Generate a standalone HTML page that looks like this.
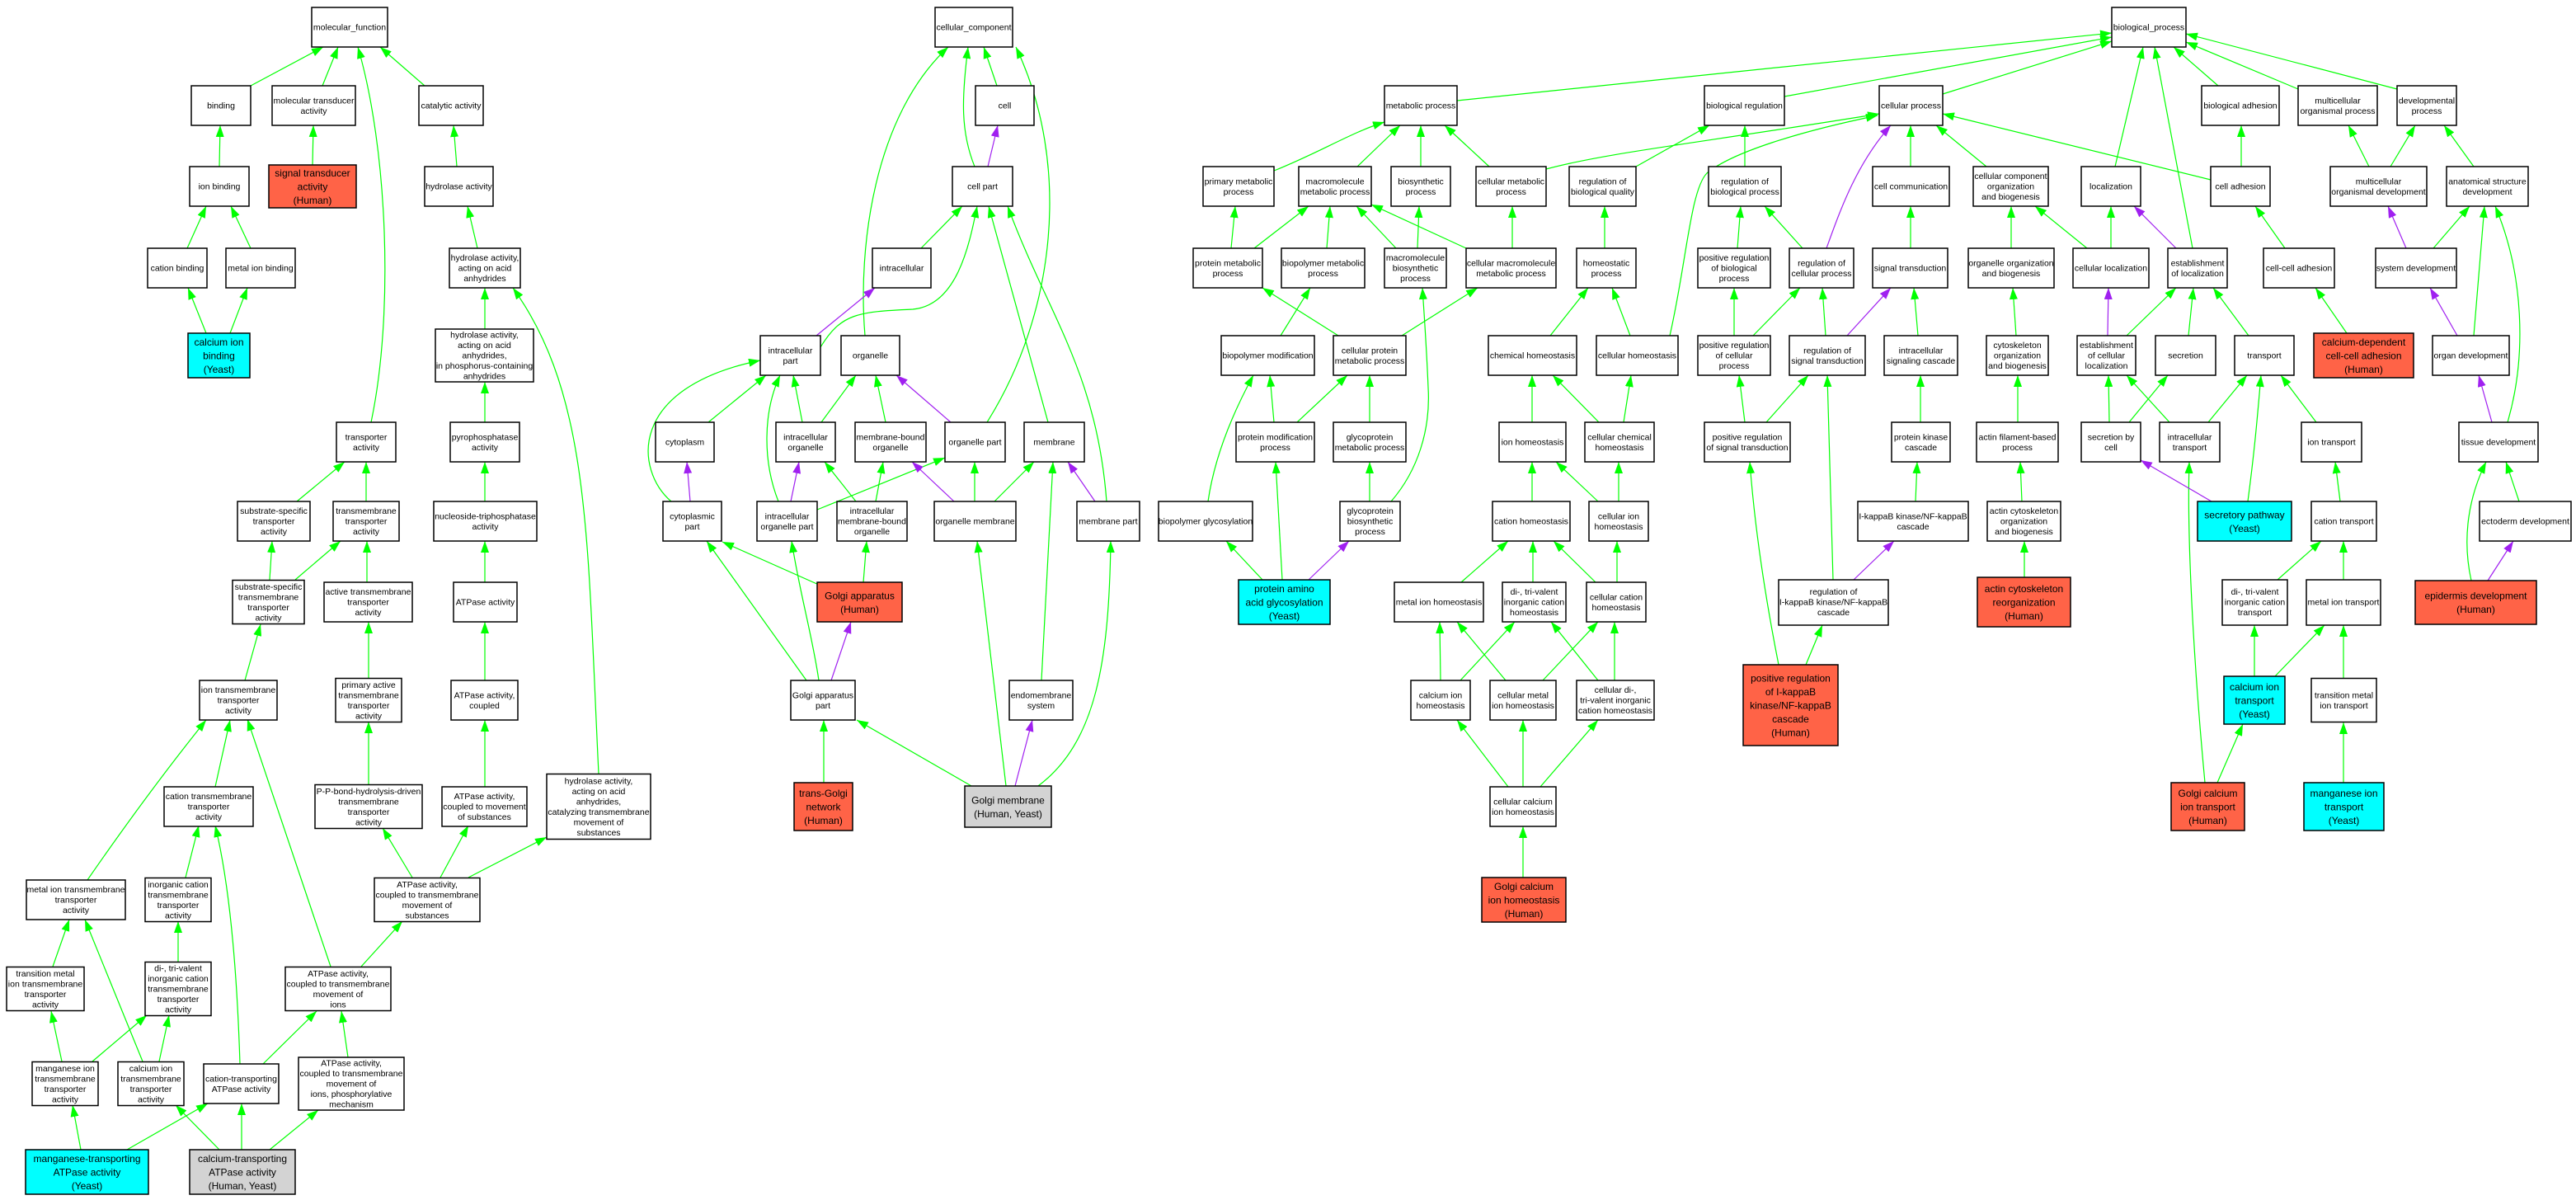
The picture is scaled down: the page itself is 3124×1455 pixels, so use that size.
<!DOCTYPE html>
<html><head><meta charset="utf-8"><style>
html,body{margin:0;padding:0;background:#fff}
svg{display:block}
rect{fill:#fff;stroke:#000;stroke-width:1.5}
rect.r{fill:#ff6347}
rect.c{fill:#00ffff}
rect.y{fill:#d3d3d3}
text{font-family:"Liberation Sans",Arial,sans-serif;font-size:10.5px;text-anchor:middle;fill:#000}
text.L{font-size:12px;letter-spacing:0}
g.g path{stroke:#00ff00;fill:none;stroke-width:1.2;marker-end:url(#mg)}
g.p path{stroke:#a020f0;fill:none;stroke-width:1.2;marker-end:url(#mp)}
</style></head><body>
<svg width="3124" height="1455" viewBox="0 0 3124 1455" xmlns="http://www.w3.org/2000/svg">
<defs>
<marker id="mg" viewBox="0 0 14 10" refX="14" refY="5" markerWidth="14" markerHeight="10" markerUnits="userSpaceOnUse" orient="auto"><path d="M0,0L14,5L0,10z" fill="#00ff00"/></marker>
<marker id="mp" viewBox="0 0 14 10" refX="14" refY="5" markerWidth="14" markerHeight="10" markerUnits="userSpaceOnUse" orient="auto"><path d="M0,0L14,5L0,10z" fill="#a020f0"/></marker>
</defs>
<g class="g">
<path d="M304,104L392,57"/><path d="M391,104L410,57"/><path d="M450,512C478,380 470,180 434,57"/><path d="M515,104L461,57"/>
<path d="M266,202L267,152"/><path d="M379,200L380,152"/><path d="M554,202L550,152"/>
<path d="M227,301L250,250"/><path d="M304,301L280,250"/><path d="M579,301L567,250"/>
<path d="M250,404L228,349"/><path d="M279,404L300,349"/><path d="M588,399L588,349"/>
<path d="M726,938C712,650 716,480 622,349"/>
<path d="M588,512L588,463"/><path d="M588,608L588,560"/><path d="M588,706L588,656"/><path d="M588,825L588,754"/><path d="M588,954L588,873"/>
<path d="M500,1064L464,1004"/><path d="M534,1064L568,1001"/><path d="M568,1064L663,1015"/>
<path d="M438,1172L488,1117"/><path d="M401,1172L300,872"/>
<path d="M360,608L418,560"/><path d="M444,608L444,560"/><path d="M327,703L330,656"/><path d="M358,703L413,656"/>
<path d="M445,706L445,656"/><path d="M447,822L447,754"/><path d="M447,951L447,875"/>
<path d="M297,825L316,757"/><path d="M261,954L279,873"/><path d="M106,1067Q180,960 250,873"/>
<path d="M225,1064L241,1001"/><path d="M216,1166L216,1117"/><path d="M64,1172L84,1115"/>
<path d="M75,1287L62,1226"/><path d="M112,1287L178,1231"/><path d="M173,1287L103,1115"/><path d="M193,1287L205,1231"/>
<path d="M319,1290L384,1226"/><path d="M291,1290Q285,1100 261,1001"/><path d="M422,1282L414,1226"/>
<path d="M98,1394L88,1340"/><path d="M154,1394L252,1338"/><path d="M266,1394L213,1340"/><path d="M293,1394L293,1338"/><path d="M327,1394L386,1346"/>
<path d="M1209,104L1193,57"/><path d="M1182,202C1165,160 1166,120 1174,57"/><path d="M1049,407C1040,300 1060,140 1150,57"/>
<path d="M1197,512C1280,380 1300,200 1232,57"/><path d="M1117,301L1167,250"/>
<path d="M995,421C1020,380 1040,378 1107,375C1160,370 1175,300 1185,250"/>
<path d="M1271,512L1199,250"/><path d="M1342,608C1330,450 1270,380 1222,250"/>
<path d="M859,512L929,455"/><path d="M973,512L962,455"/><path d="M996,512L1038,455"/><path d="M1074,512L1062,455"/>
<path d="M814,608C770,570 760,470 922,437"/><path d="M944,608C925,560 925,500 946,455"/><path d="M991,618L1146,555"/>
<path d="M1038,608L1000,560"/><path d="M1062,608L1071,560"/><path d="M1182,608L1182,560"/><path d="M1206,608L1254,560"/>
<path d="M993,709L876,657"/><path d="M1047,706L1051,656"/><path d="M978,825L857,656"/><path d="M993,825C985,770 970,720 960,656"/>
<path d="M999,949L999,873"/><path d="M1178,953L1039,873"/><path d="M1220,953L1185,656"/><path d="M1259,953C1330,900 1345,800 1347,656"/><path d="M1263,825L1277,560"/>
<path d="M1767,122L2561,40"/><path d="M2164,117L2561,45"/><path d="M2356,114L2561,50"/><path d="M2565,202L2599,57"/>
<path d="M2659,301L2613,57"/><path d="M2690,104L2636,57"/><path d="M2787,108L2651,51"/><path d="M2907,108L2651,41"/>
<path d="M2681,218L2356,138"/><path d="M2718,202L2718,152"/><path d="M2771,301L2735,250"/><path d="M2846,404L2808,349"/>
<path d="M2873,202L2848,152"/><path d="M2899,202L2929,152"/><path d="M3000,202L2964,152"/>
<path d="M2951,301L2995,250"/><path d="M3000,407L3013,250"/><path d="M3041,512C3065,430 3060,330 3026,250"/>
<path d="M3055,608L3039,560"/><path d="M2997,704C2985,650 2995,600 3015,560"/>
<path d="M2560,301L2560,250"/><path d="M2531,301L2468,250"/><path d="M2579,407L2639,349"/><path d="M2654,407L2660,349"/><path d="M2727,407L2684,349"/>
<path d="M2558,512L2557,455"/><path d="M2582,512L2629,455"/><path d="M2631,512L2579,455"/><path d="M2678,512L2725,455"/><path d="M2809,512L2766,455"/>
<path d="M2726,608C2735,540 2738,500 2742,455"/><path d="M2838,608L2832,560"/><path d="M2762,703L2815,656"/><path d="M2842,703L2842,656"/>
<path d="M2734,820L2734,758"/><path d="M2759,820L2819,758"/><path d="M2842,822L2842,758"/><path d="M2842,949L2842,876"/>
<path d="M2689,949L2720,878"/><path d="M2674,949C2660,800 2652,650 2655,560"/>
<path d="M1984,202L2073,152"/><path d="M1875,205C1950,185 2050,175 2279,138"/>
<path d="M2025,407C2045,320 2050,230 2070,210C2100,185 2180,160 2277,140"/>
<path d="M1806,202L1752,152"/><path d="M2116,202L2116,152"/><path d="M2317,202L2317,152"/><path d="M2409,202L2348,152"/>
<path d="M2107,301L2111,250"/><path d="M2186,301L2140,250"/><path d="M2317,301L2317,250"/><path d="M2439,301L2439,250"/>
<path d="M2103,407L2103,349"/><path d="M2126,407L2183,349"/><path d="M2214,407L2210,349"/><path d="M2326,407L2321,349"/><path d="M2445,407L2441,349"/>
<path d="M2116,512L2109,455"/><path d="M2142,512L2193,455"/><path d="M2329,512L2329,455"/><path d="M2447,512L2447,455"/>
<path d="M2323,608L2325,560"/><path d="M2452,608L2450,560"/><path d="M2223,703L2216,455"/><path d="M2455,700L2455,656"/>
<path d="M2157,806C2140,720 2128,640 2122,560"/><path d="M2190,806L2210,758"/>
<path d="M1545,207C1600,185 1640,160 1679,148"/><path d="M1646,202L1698,152"/><path d="M1723,202L1723,152"/>
<path d="M1493,301L1498,250"/><path d="M1521,301L1587,250"/><path d="M1609,301L1613,250"/><path d="M1693,301L1645,250"/><path d="M1719,301L1721,250"/>
<path d="M1778,301L1663,248"/><path d="M1834,301L1834,250"/><path d="M1946,301L1946,250"/>
<path d="M1553,407L1589,349"/><path d="M1623,407L1531,349"/><path d="M1700,407L1792,349"/><path d="M1880,407L1926,349"/><path d="M1977,407L1955,349"/>
<path d="M1545,512L1540,455"/><path d="M1573,512L1634,455"/><path d="M1661,512L1661,455"/><path d="M1858,512L1858,455"/><path d="M1939,512L1883,455"/><path d="M1969,512L1978,455"/>
<path d="M1465,608C1472,560 1490,510 1520,455"/><path d="M1661,608L1661,560"/>
<path d="M1687,608C1720,570 1735,520 1732,470C1730,420 1727,380 1725,349"/>
<path d="M1858,608L1858,560"/><path d="M1938,608L1887,560"/><path d="M1963,608L1963,560"/>
<path d="M1531,703L1487,656"/><path d="M1555,703L1547,560"/>
<path d="M1772,706L1829,656"/><path d="M1859,706L1859,656"/><path d="M1935,706L1884,656"/><path d="M1961,706L1961,656"/>
<path d="M1747,825L1746,754"/><path d="M1771,825L1837,754"/><path d="M1826,825L1767,754"/><path d="M1871,825L1938,754"/><path d="M1938,825L1881,754"/><path d="M1958,825L1958,754"/>
<path d="M1829,954L1767,873"/><path d="M1847,954L1847,873"/><path d="M1868,954L1938,873"/><path d="M1847,1064L1847,1002"/>
</g>
<g class="p">
<path d="M1198,202L1210,152"/><path d="M990,407L1061,349"/><path d="M1153,512L1087,455"/><path d="M837,608L833,560"/>
<path d="M959,608L969,560"/><path d="M1157,608L1106,560"/><path d="M1328,608L1295,560"/><path d="M1008,825L1032,754"/><path d="M1231,953L1252,873"/>
<path d="M2918,301L2896,250"/><path d="M2980,407L2947,349"/><path d="M3022,512L3006,455"/><path d="M3017,704L3048,656"/>
<path d="M2639,301L2588,250"/><path d="M2556,407L2557,349"/><path d="M2682,608L2596,558"/>
<path d="M2215,301C2230,260 2250,200 2293,152"/><path d="M2240,407L2293,349"/><path d="M2248,703L2297,656"/>
<path d="M1587,703L1636,656"/>
</g>

<rect x="378" y="9" width="92" height="48"/><text x="424" y="36.7">molecular_function</text>
<rect x="232" y="104" width="72" height="48"/><text x="268" y="131.7">binding</text>
<rect x="330" y="104" width="101" height="48"/><text x="380.5" y="125.45">molecular transducer<tspan x="380.5" dy="12.5">activity</tspan></text>
<rect x="508" y="104" width="78" height="48"/><text x="547" y="131.7">catalytic activity</text>
<rect x="230" y="202" width="72" height="48"/><text x="266" y="229.7">ion binding</text>
<rect class="r" x="326" y="200" width="106" height="52"/><text class="L" x="379" y="214.1">signal transducer<tspan x="379" dy="16.5">activity</tspan><tspan x="379" dy="16.5">(Human)</tspan></text>
<rect x="515" y="202" width="83" height="48"/><text x="556.5" y="229.7">hydrolase activity</text>
<rect x="179" y="301" width="72" height="48"/><text x="215" y="328.7">cation binding</text>
<rect x="274" y="301" width="84" height="48"/><text x="316" y="328.7">metal ion binding</text>
<rect x="545" y="301" width="86" height="48"/><text x="588" y="316.2">hydrolase activity,<tspan x="588" dy="12.5">acting on acid</tspan><tspan x="588" dy="12.5">anhydrides</tspan></text>
<rect class="c" x="228" y="404" width="75" height="54"/><text class="L" x="265.5" y="419.1">calcium ion<tspan x="265.5" dy="16.5">binding</tspan><tspan x="265.5" dy="16.5">(Yeast)</tspan></text>
<rect x="528" y="399" width="119" height="64"/><text x="587.5" y="409.7">hydrolase activity,<tspan x="587.5" dy="12.5">acting on acid</tspan><tspan x="587.5" dy="12.5">anhydrides,</tspan><tspan x="587.5" dy="12.5">in phosphorus-containing</tspan><tspan x="587.5" dy="12.5">anhydrides</tspan></text>
<rect x="408" y="512" width="72" height="48"/><text x="444" y="533.45">transporter<tspan x="444" dy="12.5">activity</tspan></text>
<rect x="546" y="512" width="84" height="48"/><text x="588" y="533.45">pyrophosphatase<tspan x="588" dy="12.5">activity</tspan></text>
<rect x="288" y="608" width="88" height="48"/><text x="332" y="623.2">substrate-specific<tspan x="332" dy="12.5">transporter</tspan><tspan x="332" dy="12.5">activity</tspan></text>
<rect x="404" y="608" width="80" height="48"/><text x="444" y="623.2">transmembrane<tspan x="444" dy="12.5">transporter</tspan><tspan x="444" dy="12.5">activity</tspan></text>
<rect x="526" y="608" width="125" height="48"/><text x="588.5" y="629.45">nucleoside-triphosphatase<tspan x="588.5" dy="12.5">activity</tspan></text>
<rect x="282" y="703.5" width="87" height="53"/><text x="325.5" y="714.95">substrate-specific<tspan x="325.5" dy="12.5">transmembrane</tspan><tspan x="325.5" dy="12.5">transporter</tspan><tspan x="325.5" dy="12.5">activity</tspan></text>
<rect x="393" y="706" width="107" height="48"/><text x="446.5" y="721.2">active transmembrane<tspan x="446.5" dy="12.5">transporter</tspan><tspan x="446.5" dy="12.5">activity</tspan></text>
<rect x="550" y="706" width="77" height="48"/><text x="588.5" y="733.7">ATPase activity</text>
<rect x="242" y="825" width="94" height="48"/><text x="289" y="840.2">ion transmembrane<tspan x="289" dy="12.5">transporter</tspan><tspan x="289" dy="12.5">activity</tspan></text>
<rect x="407" y="822.5" width="80" height="53"/><text x="447" y="833.95">primary active<tspan x="447" dy="12.5">transmembrane</tspan><tspan x="447" dy="12.5">transporter</tspan><tspan x="447" dy="12.5">activity</tspan></text>
<rect x="547" y="825" width="81" height="48"/><text x="587.5" y="846.45">ATPase activity,<tspan x="587.5" dy="12.5">coupled</tspan></text>
<rect x="199" y="954" width="108" height="48"/><text x="253" y="969.2">cation transmembrane<tspan x="253" dy="12.5">transporter</tspan><tspan x="253" dy="12.5">activity</tspan></text>
<rect x="382" y="951.5" width="130" height="53"/><text x="447" y="962.95">P-P-bond-hydrolysis-driven<tspan x="447" dy="12.5">transmembrane</tspan><tspan x="447" dy="12.5">transporter</tspan><tspan x="447" dy="12.5">activity</tspan></text>
<rect x="536" y="954" width="103" height="48"/><text x="587.5" y="969.2">ATPase activity,<tspan x="587.5" dy="12.5">coupled to movement</tspan><tspan x="587.5" dy="12.5">of substances</tspan></text>
<rect x="663" y="938.5" width="126" height="79"/><text x="726" y="950.45">hydrolase activity,<tspan x="726" dy="12.5">acting on acid</tspan><tspan x="726" dy="12.5">anhydrides,</tspan><tspan x="726" dy="12.5">catalyzing transmembrane</tspan><tspan x="726" dy="12.5">movement of</tspan><tspan x="726" dy="12.5">substances</tspan></text>
<rect x="32" y="1067" width="120" height="48"/><text x="92" y="1082.2">metal ion transmembrane<tspan x="92" dy="12.5">transporter</tspan><tspan x="92" dy="12.5">activity</tspan></text>
<rect x="176" y="1064.5" width="80" height="53"/><text x="216" y="1075.95">inorganic cation<tspan x="216" dy="12.5">transmembrane</tspan><tspan x="216" dy="12.5">transporter</tspan><tspan x="216" dy="12.5">activity</tspan></text>
<rect x="454" y="1064.5" width="128" height="53"/><text x="518" y="1075.95">ATPase activity,<tspan x="518" dy="12.5">coupled to transmembrane</tspan><tspan x="518" dy="12.5">movement of</tspan><tspan x="518" dy="12.5">substances</tspan></text>
<rect x="8" y="1172.5" width="94" height="53"/><text x="55" y="1183.95">transition metal<tspan x="55" dy="12.5">ion transmembrane</tspan><tspan x="55" dy="12.5">transporter</tspan><tspan x="55" dy="12.5">activity</tspan></text>
<rect x="176" y="1166.5" width="80" height="65"/><text x="216" y="1177.7">di-, tri-valent<tspan x="216" dy="12.5">inorganic cation</tspan><tspan x="216" dy="12.5">transmembrane</tspan><tspan x="216" dy="12.5">transporter</tspan><tspan x="216" dy="12.5">activity</tspan></text>
<rect x="346" y="1172.5" width="128" height="53"/><text x="410" y="1183.95">ATPase activity,<tspan x="410" dy="12.5">coupled to transmembrane</tspan><tspan x="410" dy="12.5">movement of</tspan><tspan x="410" dy="12.5">ions</tspan></text>
<rect x="39" y="1287.5" width="80" height="53"/><text x="79" y="1298.95">manganese ion<tspan x="79" dy="12.5">transmembrane</tspan><tspan x="79" dy="12.5">transporter</tspan><tspan x="79" dy="12.5">activity</tspan></text>
<rect x="143" y="1287.5" width="80" height="53"/><text x="183" y="1298.95">calcium ion<tspan x="183" dy="12.5">transmembrane</tspan><tspan x="183" dy="12.5">transporter</tspan><tspan x="183" dy="12.5">activity</tspan></text>
<rect x="247" y="1290" width="91" height="48"/><text x="292.5" y="1311.45">cation-transporting<tspan x="292.5" dy="12.5">ATPase activity</tspan></text>
<rect x="362" y="1282" width="128" height="64"/><text x="426" y="1292.7">ATPase activity,<tspan x="426" dy="12.5">coupled to transmembrane</tspan><tspan x="426" dy="12.5">movement of</tspan><tspan x="426" dy="12.5">ions, phosphorylative</tspan><tspan x="426" dy="12.5">mechanism</tspan></text>
<rect class="c" x="31" y="1394" width="149" height="54"/><text class="L" x="105.5" y="1409.1">manganese-transporting<tspan x="105.5" dy="16.5">ATPase activity</tspan><tspan x="105.5" dy="16.5">(Yeast)</tspan></text>
<rect class="y" x="230" y="1394" width="128" height="54"/><text class="L" x="294" y="1409.1">calcium-transporting<tspan x="294" dy="16.5">ATPase activity</tspan><tspan x="294" dy="16.5">(Human, Yeast)</tspan></text>

<rect x="1134" y="9" width="94" height="48"/><text x="1181" y="36.7">cellular_component</text>
<rect x="1183" y="104" width="71" height="48"/><text x="1218.5" y="131.7">cell</text>
<rect x="1155" y="202" width="73" height="48"/><text x="1191.5" y="229.7">cell part</text>
<rect x="1058" y="301" width="71" height="48"/><text x="1093.5" y="328.7">intracellular</text>
<rect x="922" y="407" width="73" height="48"/><text x="958.5" y="428.45">intracellular<tspan x="958.5" dy="12.5">part</tspan></text>
<rect x="1020" y="407" width="71" height="48"/><text x="1055.5" y="434.7">organelle</text>
<rect x="795" y="512" width="71" height="48"/><text x="830.5" y="539.7">cytoplasm</text>
<rect x="941" y="512" width="72" height="48"/><text x="977" y="533.45">intracellular<tspan x="977" dy="12.5">organelle</tspan></text>
<rect x="1037" y="512" width="86" height="48"/><text x="1080" y="533.45">membrane-bound<tspan x="1080" dy="12.5">organelle</tspan></text>
<rect x="1146" y="512" width="73" height="48"/><text x="1182.5" y="539.7">organelle part</text>
<rect x="1242" y="512" width="73" height="48"/><text x="1278.5" y="539.7">membrane</text>
<rect x="804" y="608" width="71" height="48"/><text x="839.5" y="629.45">cytoplasmic<tspan x="839.5" dy="12.5">part</tspan></text>
<rect x="918" y="608" width="73" height="48"/><text x="954.5" y="629.45">intracellular<tspan x="954.5" dy="12.5">organelle part</tspan></text>
<rect x="1015" y="608" width="85" height="48"/><text x="1057.5" y="623.2">intracellular<tspan x="1057.5" dy="12.5">membrane-bound</tspan><tspan x="1057.5" dy="12.5">organelle</tspan></text>
<rect x="1133" y="608" width="99" height="48"/><text x="1182.5" y="635.7">organelle membrane</text>
<rect x="1306" y="608" width="76" height="48"/><text x="1344" y="635.7">membrane part</text>
<rect class="r" x="991" y="706" width="103" height="48"/><text class="L" x="1042.5" y="726.35">Golgi apparatus<tspan x="1042.5" dy="16.5">(Human)</tspan></text>
<rect x="959" y="825" width="78" height="48"/><text x="998" y="846.45">Golgi apparatus<tspan x="998" dy="12.5">part</tspan></text>
<rect x="1224" y="825" width="77" height="48"/><text x="1262.5" y="846.45">endomembrane<tspan x="1262.5" dy="12.5">system</tspan></text>
<rect class="r" x="963" y="949" width="71" height="58"/><text class="L" x="998.5" y="966.1">trans-Golgi<tspan x="998.5" dy="16.5">network</tspan><tspan x="998.5" dy="16.5">(Human)</tspan></text>
<rect class="y" x="1170" y="953" width="105" height="50"/><text class="L" x="1222.5" y="974.35">Golgi membrane<tspan x="1222.5" dy="16.5">(Human, Yeast)</tspan></text>

<rect x="2561" y="9" width="90" height="48"/><text x="2606" y="36.7">biological_process</text>
<rect x="1679" y="104" width="88" height="48"/><text x="1723" y="131.7">metabolic process</text>
<rect x="2067" y="104" width="97" height="48"/><text x="2115.5" y="131.7">biological regulation</text>
<rect x="2279" y="104" width="77" height="48"/><text x="2317.5" y="131.7">cellular process</text>
<rect x="2670" y="104" width="94" height="48"/><text x="2717" y="131.7">biological adhesion</text>
<rect x="2787" y="104" width="96" height="48"/><text x="2835" y="125.45">multicellular<tspan x="2835" dy="12.5">organismal process</tspan></text>
<rect x="2907" y="104" width="72" height="48"/><text x="2943" y="125.45">developmental<tspan x="2943" dy="12.5">process</tspan></text>
<rect x="1459" y="202" width="86" height="48"/><text x="1502" y="223.45">primary metabolic<tspan x="1502" dy="12.5">process</tspan></text>
<rect x="1575" y="202" width="88" height="48"/><text x="1619" y="223.45">macromolecule<tspan x="1619" dy="12.5">metabolic process</tspan></text>
<rect x="1687" y="202" width="72" height="48"/><text x="1723" y="223.45">biosynthetic<tspan x="1723" dy="12.5">process</tspan></text>
<rect x="1790" y="202" width="85" height="48"/><text x="1832.5" y="223.45">cellular metabolic<tspan x="1832.5" dy="12.5">process</tspan></text>
<rect x="1903" y="202" width="81" height="48"/><text x="1943.5" y="223.45">regulation of<tspan x="1943.5" dy="12.5">biological quality</tspan></text>
<rect x="2072" y="202" width="88" height="48"/><text x="2116" y="223.45">regulation of<tspan x="2116" dy="12.5">biological process</tspan></text>
<rect x="2271" y="202" width="93" height="48"/><text x="2317.5" y="229.7">cell communication</text>
<rect x="2393" y="202" width="91" height="48"/><text x="2438.5" y="217.2">cellular component<tspan x="2438.5" dy="12.5">organization</tspan><tspan x="2438.5" dy="12.5">and biogenesis</tspan></text>
<rect x="2524" y="202" width="72" height="48"/><text x="2560" y="229.7">localization</text>
<rect x="2681" y="202" width="72" height="48"/><text x="2717" y="229.7">cell adhesion</text>
<rect x="2826" y="202" width="117" height="48"/><text x="2884.5" y="223.45">multicellular<tspan x="2884.5" dy="12.5">organismal development</tspan></text>
<rect x="2967" y="202" width="99" height="48"/><text x="3016.5" y="223.45">anatomical structure<tspan x="3016.5" dy="12.5">development</tspan></text>
<rect x="1447" y="301" width="84" height="48"/><text x="1489" y="322.45">protein metabolic<tspan x="1489" dy="12.5">process</tspan></text>
<rect x="1554" y="301" width="101" height="48"/><text x="1604.5" y="322.45">biopolymer metabolic<tspan x="1604.5" dy="12.5">process</tspan></text>
<rect x="1679" y="301" width="75" height="48"/><text x="1716.5" y="316.2">macromolecule<tspan x="1716.5" dy="12.5">biosynthetic</tspan><tspan x="1716.5" dy="12.5">process</tspan></text>
<rect x="1778" y="301" width="109" height="48"/><text x="1832.5" y="322.45">cellular macromolecule<tspan x="1832.5" dy="12.5">metabolic process</tspan></text>
<rect x="1912" y="301" width="72" height="48"/><text x="1948" y="322.45">homeostatic<tspan x="1948" dy="12.5">process</tspan></text>
<rect x="2059" y="301" width="88" height="48"/><text x="2103" y="316.2">positive regulation<tspan x="2103" dy="12.5">of biological</tspan><tspan x="2103" dy="12.5">process</tspan></text>
<rect x="2170" y="301" width="78" height="48"/><text x="2209" y="322.45">regulation of<tspan x="2209" dy="12.5">cellular process</tspan></text>
<rect x="2271" y="301" width="91" height="48"/><text x="2316.5" y="328.7">signal transduction</text>
<rect x="2387" y="301" width="104" height="48"/><text x="2439" y="322.45">organelle organization<tspan x="2439" dy="12.5">and biogenesis</tspan></text>
<rect x="2514" y="301" width="92" height="48"/><text x="2560" y="328.7">cellular localization</text>
<rect x="2629" y="301" width="72" height="48"/><text x="2665" y="322.45">establishment<tspan x="2665" dy="12.5">of localization</tspan></text>
<rect x="2745" y="301" width="86" height="48"/><text x="2788" y="328.7">cell-cell adhesion</text>
<rect x="2881" y="301" width="98" height="48"/><text x="2930" y="328.7">system development</text>
<rect x="1481" y="407" width="113" height="48"/><text x="1537.5" y="434.7">biopolymer modification</text>
<rect x="1617" y="407" width="88" height="48"/><text x="1661" y="428.45">cellular protein<tspan x="1661" dy="12.5">metabolic process</tspan></text>
<rect x="1805" y="407" width="107" height="48"/><text x="1858.5" y="434.7">chemical homeostasis</text>
<rect x="1936" y="407" width="99" height="48"/><text x="1985.5" y="434.7">cellular homeostasis</text>
<rect x="2059" y="407" width="88" height="48"/><text x="2103" y="422.2">positive regulation<tspan x="2103" dy="12.5">of cellular</tspan><tspan x="2103" dy="12.5">process</tspan></text>
<rect x="2170" y="407" width="92" height="48"/><text x="2216" y="428.45">regulation of<tspan x="2216" dy="12.5">signal transduction</tspan></text>
<rect x="2285" y="407" width="89" height="48"/><text x="2329.5" y="428.45">intracellular<tspan x="2329.5" dy="12.5">signaling cascade</tspan></text>
<rect x="2409" y="407" width="75" height="48"/><text x="2446.5" y="422.2">cytoskeleton<tspan x="2446.5" dy="12.5">organization</tspan><tspan x="2446.5" dy="12.5">and biogenesis</tspan></text>
<rect x="2519" y="407" width="71" height="48"/><text x="2554.5" y="422.2">establishment<tspan x="2554.5" dy="12.5">of cellular</tspan><tspan x="2554.5" dy="12.5">localization</tspan></text>
<rect x="2614" y="407" width="73" height="48"/><text x="2650.5" y="434.7">secretion</text>
<rect x="2710" y="407" width="72" height="48"/><text x="2746" y="434.7">transport</text>
<rect class="r" x="2806" y="404" width="121" height="54"/><text class="L" x="2866.5" y="419.1">calcium-dependent<tspan x="2866.5" dy="16.5">cell-cell adhesion</tspan><tspan x="2866.5" dy="16.5">(Human)</tspan></text>
<rect x="2950" y="407" width="93" height="48"/><text x="2996.5" y="434.7">organ development</text>
<rect x="1499" y="512" width="95" height="48"/><text x="1546.5" y="533.45">protein modification<tspan x="1546.5" dy="12.5">process</tspan></text>
<rect x="1617" y="512" width="88" height="48"/><text x="1661" y="533.45">glycoprotein<tspan x="1661" dy="12.5">metabolic process</tspan></text>
<rect x="1818" y="512" width="81" height="48"/><text x="1858.5" y="539.7">ion homeostasis</text>
<rect x="1922" y="512" width="84" height="48"/><text x="1964" y="533.45">cellular chemical<tspan x="1964" dy="12.5">homeostasis</tspan></text>
<rect x="2067" y="512" width="104" height="48"/><text x="2119" y="533.45">positive regulation<tspan x="2119" dy="12.5">of signal transduction</tspan></text>
<rect x="2294" y="512" width="71" height="48"/><text x="2329.5" y="533.45">protein kinase<tspan x="2329.5" dy="12.5">cascade</tspan></text>
<rect x="2397" y="512" width="99" height="48"/><text x="2446.5" y="533.45">actin filament-based<tspan x="2446.5" dy="12.5">process</tspan></text>
<rect x="2524" y="512" width="72" height="48"/><text x="2560" y="533.45">secretion by<tspan x="2560" dy="12.5">cell</tspan></text>
<rect x="2619" y="512" width="73" height="48"/><text x="2655.5" y="533.45">intracellular<tspan x="2655.5" dy="12.5">transport</tspan></text>
<rect x="2791" y="512" width="73" height="48"/><text x="2827.5" y="539.7">ion transport</text>
<rect x="2982" y="512" width="96" height="48"/><text x="3030" y="539.7">tissue development</text>
<rect x="1405" y="608" width="114" height="48"/><text x="1462" y="635.7">biopolymer glycosylation</text>
<rect x="1625" y="608" width="73" height="48"/><text x="1661.5" y="623.2">glycoprotein<tspan x="1661.5" dy="12.5">biosynthetic</tspan><tspan x="1661.5" dy="12.5">process</tspan></text>
<rect x="1810" y="608" width="94" height="48"/><text x="1857" y="635.7">cation homeostasis</text>
<rect x="1927" y="608" width="72" height="48"/><text x="1963" y="629.45">cellular ion<tspan x="1963" dy="12.5">homeostasis</tspan></text>
<rect x="2253" y="608" width="134" height="48"/><text x="2320" y="629.45">I-kappaB kinase/NF-kappaB<tspan x="2320" dy="12.5">cascade</tspan></text>
<rect x="2410" y="608" width="89" height="48"/><text x="2454.5" y="623.2">actin cytoskeleton<tspan x="2454.5" dy="12.5">organization</tspan><tspan x="2454.5" dy="12.5">and biogenesis</tspan></text>
<rect class="c" x="2665" y="608" width="114" height="48"/><text class="L" x="2722" y="628.35">secretory pathway<tspan x="2722" dy="16.5">(Yeast)</tspan></text>
<rect x="2803" y="608" width="79" height="48"/><text x="2842.5" y="635.7">cation transport</text>
<rect x="3007" y="608" width="111" height="48"/><text x="3062.5" y="635.7">ectoderm development</text>
<rect class="c" x="1502" y="703" width="111" height="54"/><text class="L" x="1557.5" y="718.1">protein amino<tspan x="1557.5" dy="16.5">acid glycosylation</tspan><tspan x="1557.5" dy="16.5">(Yeast)</tspan></text>
<rect x="1691" y="706" width="108" height="48"/><text x="1745" y="733.7">metal ion homeostasis</text>
<rect x="1822" y="706" width="77" height="48"/><text x="1860.5" y="721.2">di-, tri-valent<tspan x="1860.5" dy="12.5">inorganic cation</tspan><tspan x="1860.5" dy="12.5">homeostasis</tspan></text>
<rect x="1924" y="706" width="72" height="48"/><text x="1960" y="727.45">cellular cation<tspan x="1960" dy="12.5">homeostasis</tspan></text>
<rect x="2157" y="703" width="133" height="55"/><text x="2223.5" y="721.2">regulation of<tspan x="2223.5" dy="12.5">I-kappaB kinase/NF-kappaB</tspan><tspan x="2223.5" dy="12.5">cascade</tspan></text>
<rect class="r" x="2398" y="700" width="113" height="60"/><text class="L" x="2454.5" y="718.1">actin cytoskeleton<tspan x="2454.5" dy="16.5">reorganization</tspan><tspan x="2454.5" dy="16.5">(Human)</tspan></text>
<rect x="2695" y="703" width="79" height="55"/><text x="2734.5" y="721.2">di-, tri-valent<tspan x="2734.5" dy="12.5">inorganic cation</tspan><tspan x="2734.5" dy="12.5">transport</tspan></text>
<rect x="2797" y="703" width="90" height="55"/><text x="2842" y="733.7">metal ion transport</text>
<rect class="r" x="2929" y="704" width="147" height="53"/><text class="L" x="3002.5" y="726.35">epidermis development<tspan x="3002.5" dy="16.5">(Human)</tspan></text>
<rect x="1711" y="825" width="72" height="48"/><text x="1747" y="846.45">calcium ion<tspan x="1747" dy="12.5">homeostasis</tspan></text>
<rect x="1807" y="825" width="80" height="48"/><text x="1847" y="846.45">cellular metal<tspan x="1847" dy="12.5">ion homeostasis</tspan></text>
<rect x="1912" y="825" width="94" height="48"/><text x="1959" y="840.2">cellular di-,<tspan x="1959" dy="12.5">tri-valent inorganic</tspan><tspan x="1959" dy="12.5">cation homeostasis</tspan></text>
<rect class="r" x="2114" y="806" width="115" height="98"/><text class="L" x="2171.5" y="826.6">positive regulation<tspan x="2171.5" dy="16.5">of I-kappaB</tspan><tspan x="2171.5" dy="16.5">kinase/NF-kappaB</tspan><tspan x="2171.5" dy="16.5">cascade</tspan><tspan x="2171.5" dy="16.5">(Human)</tspan></text>
<rect class="c" x="2697" y="820" width="74" height="58"/><text class="L" x="2734" y="837.1">calcium ion<tspan x="2734" dy="16.5">transport</tspan><tspan x="2734" dy="16.5">(Yeast)</tspan></text>
<rect x="2803" y="822.5" width="79" height="53"/><text x="2842.5" y="846.45">transition metal<tspan x="2842.5" dy="12.5">ion transport</tspan></text>
<rect x="1807" y="954" width="80" height="48"/><text x="1847" y="975.45">cellular calcium<tspan x="1847" dy="12.5">ion homeostasis</tspan></text>
<rect class="r" x="2633" y="949" width="89" height="58"/><text class="L" x="2677.5" y="966.1">Golgi calcium<tspan x="2677.5" dy="16.5">ion transport</tspan><tspan x="2677.5" dy="16.5">(Human)</tspan></text>
<rect class="c" x="2794" y="949" width="97" height="58"/><text class="L" x="2842.5" y="966.1">manganese ion<tspan x="2842.5" dy="16.5">transport</tspan><tspan x="2842.5" dy="16.5">(Yeast)</tspan></text>
<rect class="r" x="1797" y="1064" width="102" height="54"/><text class="L" x="1848" y="1079.1">Golgi calcium<tspan x="1848" dy="16.5">ion homeostasis</tspan><tspan x="1848" dy="16.5">(Human)</tspan></text>
</svg>
</body></html>
